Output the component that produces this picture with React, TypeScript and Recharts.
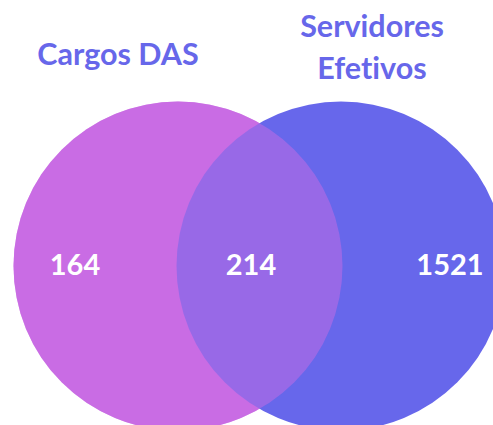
import React from 'react';
import { ScatterChart, Scatter, XAxis, YAxis } from 'recharts';

// ---- data ----
const setNames = ['Cargos DAS', 'Servidores Efetivos'];
const exclusiveCounts = [164, 1521];
const overlapCount = 214;

// ---- layout (chart units, 1 unit = 1px) ----
const W = 493;
const H = 425;
const R = 164.5;
const circleCenters = [
  { x: 178, y: 266 },
  { x: 341, y: 266 },
];
const colors = ['#C96CE4', '#6767EB'];
const titleColor = '#6767EA';

const circleData = circleCenters.map((c, i) => ({ ...c, name: setNames[i], fill: colors[i] }));
const overlayData = [{ ...circleCenters[0], fill: colors[0] }];

const countData = [
  { x: 75, y: 275, label: String(exclusiveCounts[0]) },
  { x: 251, y: 275, label: String(overlapCount) },
  { x: 450, y: 275, label: String(exclusiveCounts[1]) },
];

const titleData = [
  { x: 118, y: 65, lines: [setNames[0]] },
  { x: 372, y: 37, lines: setNames[1].split(' ') },
];

const font = 'Lato, "Open Sans", sans-serif';
const noLig: React.CSSProperties = { fontVariantLigatures: 'none', fontFeatureSettings: '"liga" 0, "clig" 0' };

const CircleShape = (props: any) => (
  <circle cx={props.cx} cy={props.cy} r={R} fill={props.payload.fill} />
);
const OverlayShape = (props: any) => (
  <circle cx={props.cx} cy={props.cy} r={R} fill={props.payload.fill} fillOpacity={0.5} />
);
const CountShape = (props: any) => (
  <text x={props.cx} y={props.cy} textAnchor="middle" fill="#ffffff" fontFamily={font} fontWeight={700} fontSize={29} style={noLig}>
    {props.payload.label}
  </text>
);
const TitleShape = (props: any) => (
  <text x={props.cx} y={props.cy} textAnchor="middle" fill={titleColor} fontFamily={font} fontWeight={700} fontSize={30.5} style={noLig}>
    {props.payload.lines.map((l: string, i: number) => (
      <tspan key={i} x={props.cx} dy={i === 0 ? 0 : 41.5}>{l}</tspan>
    ))}
  </text>
);

export default function App() {
  return (
    <div style={{ position: 'absolute', left: 0, top: 0, width: W, height: H, background: '#fff' }}>
      <ScatterChart width={W} height={H} margin={{ top: 0, right: 0, bottom: 0, left: 0 }}>
        <XAxis type="number" dataKey="x" domain={[0, W]} hide />
        <YAxis type="number" dataKey="y" domain={[0, H]} reversed hide />
        <Scatter data={circleData} shape={CircleShape} isAnimationActive={false} />
        <Scatter data={overlayData} shape={OverlayShape} isAnimationActive={false} />
        <Scatter data={countData} shape={CountShape} isAnimationActive={false} />
        <Scatter data={titleData} shape={TitleShape} isAnimationActive={false} />
      </ScatterChart>
    </div>
  );
}
